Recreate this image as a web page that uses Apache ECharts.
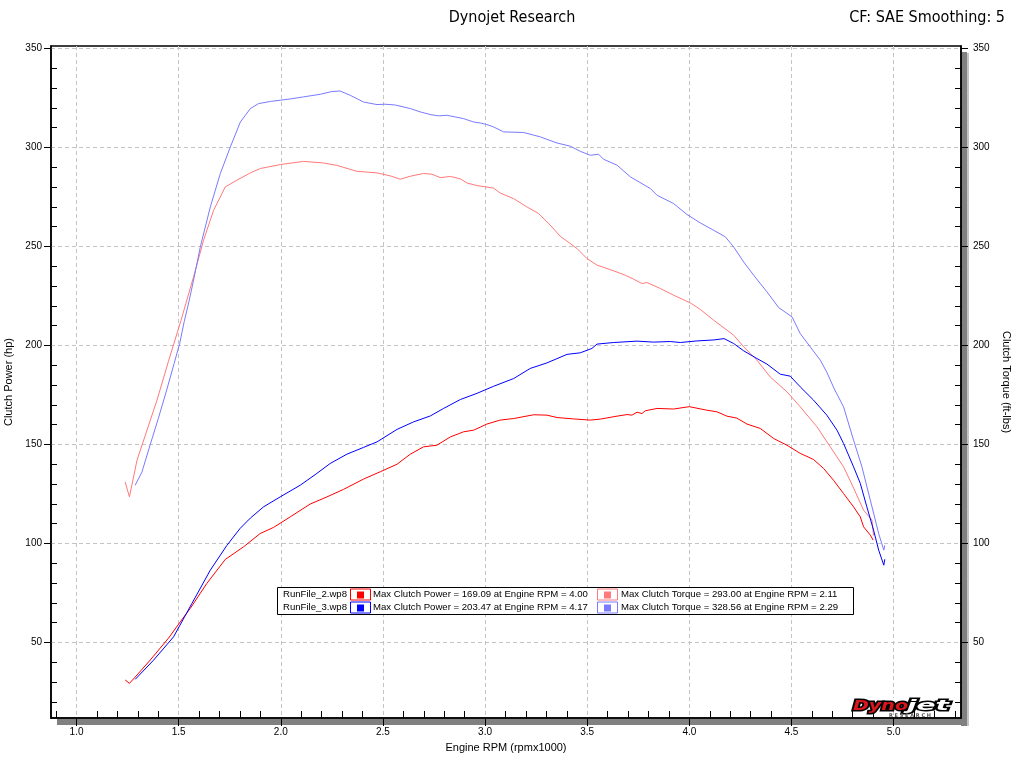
<!DOCTYPE html>
<html><head><meta charset="utf-8">
<script src="https://cdn.jsdelivr.net/npm/echarts@6/dist/echarts.min.js"></script>
<style>html,body{margin:0;padding:0;background:#fff}#c{width:1024px;height:774px}</style>
</head><body><div id="c"></div>
<script>
// ---- data (Engine RPM x1000 / value) ----
const rpmPower2 = [1.238,1.259,1.296,1.361,1.45,1.508,1.557,1.638,1.728,1.818,1.899,1.965,2.046,2.144,2.226,2.307,2.405,2.487,2.569,2.634,2.699,2.764,2.83,2.895,2.944,3.009,3.074,3.14,3.238,3.303,3.352,3.433,3.515,3.564,3.646,3.695,3.719,3.744,3.768,3.784,3.842,3.923,4.0,4.086,4.135,4.184,4.233,4.282,4.347,4.413,4.478,4.543,4.608,4.657,4.706,4.755,4.804,4.837,4.853,4.886,4.9];
const power2 = [31,29.3,33.5,41.1,52.1,60.4,67.2,79.8,91.9,98.3,105,108.1,113.4,119.9,123.5,127.3,132.5,136.2,140,145.1,148.8,149.6,153.8,156.4,157.2,160.3,162.3,163.1,165,164.8,163.6,162.9,162.3,162.8,164.3,165.1,164.8,166.3,165.6,167,168.2,167.9,169.09,167.3,166.5,164.3,163.3,160.3,158.1,153,149.6,145.5,142.4,137.9,131.9,125.2,118.5,113.4,108.4,104.2,101.7];

const rpmPower3 = [1.287,1.377,1.475,1.565,1.655,1.736,1.801,1.851,1.916,1.997,2.095,2.177,2.242,2.324,2.405,2.471,2.569,2.65,2.732,2.797,2.879,2.96,3.042,3.14,3.221,3.303,3.401,3.466,3.523,3.548,3.63,3.744,3.825,3.907,3.956,4.037,4.12,4.17,4.217,4.266,4.331,4.38,4.445,4.494,4.543,4.608,4.673,4.723,4.755,4.804,4.837,4.869,4.902,4.927,4.952,4.957];
const power3 = [31.3,41,52.8,69.7,86.5,99,107.6,112.8,118.5,123.5,129.4,135.4,140.4,145.1,148.5,151.3,157.6,161.4,164.4,168.2,172.7,175.8,179.4,183.3,188.4,191.2,195.5,196.3,198.5,200.7,201.5,202.2,201.7,202,201.5,202.3,202.8,203.47,201,197.3,193.4,190.6,185.5,184.5,179.1,172.4,164.8,157.2,150.5,138.7,130.3,118.5,106.7,96.6,89,92];

const rpmTorque2 = [1.238,1.259,1.296,1.345,1.394,1.45,1.511,1.573,1.622,1.671,1.728,1.785,1.851,1.9,1.997,2.111,2.209,2.274,2.372,2.471,2.536,2.585,2.634,2.699,2.74,2.781,2.83,2.879,2.911,2.96,3.042,3.074,3.14,3.205,3.262,3.319,3.368,3.45,3.499,3.548,3.63,3.686,3.727,3.768,3.793,3.858,3.923,4.005,4.054,4.119,4.217,4.266,4.331,4.396,4.478,4.543,4.625,4.69,4.755,4.804,4.853,4.894,4.902];
const torque2 = [131.1,123.5,142,157.2,172.4,192,212.5,234.7,253.2,268.3,280.1,283.5,287.2,289.4,291.4,293,292.2,291,288,287.2,285.7,284,285.5,286.9,286.5,284.8,285.4,284.2,282.1,280.8,279.5,277,274.2,270,266.7,260.8,255.2,249,243.9,240.6,237.7,235.5,233.5,231.3,231.8,228.8,225.4,221.5,218.2,212.8,205.2,199.3,192.6,184.1,176.6,169,158.9,148.8,138.7,128,116.8,111.8,104];

const rpmTorque3 = [1.287,1.32,1.361,1.40,1.44,1.478,1.505,1.527,1.55,1.573,1.606,1.655,1.704,1.753,1.802,1.851,1.891,1.95,1.997,2.05,2.111,2.193,2.25,2.29,2.34,2.405,2.471,2.51,2.56,2.634,2.683,2.735,2.772,2.813,2.895,2.944,2.977,3.009,3.042,3.091,3.189,3.27,3.352,3.417,3.466,3.515,3.556,3.58,3.646,3.711,3.809,3.842,3.923,3.988,4.054,4.119,4.176,4.217,4.266,4.315,4.38,4.437,4.503,4.543,4.592,4.641,4.673,4.71,4.755,4.804,4.845,4.886,4.927,4.952,4.957];
const torque3 = [129.4,136,150,163,177,191,201,212,222,233,249.8,270,286.9,300.3,312.9,319.7,322.2,323.3,323.9,324.6,325.6,326.9,328.3,328.56,326.4,323,321.7,321.9,321.5,319.7,318,316.6,316,316.3,314.6,312.9,312.4,311.6,310.4,307.9,307.6,305.4,302.3,300.7,298.1,296.1,296.6,294.1,291.1,285.2,279.3,275.9,271.7,266.2,261.9,258.2,254.9,249.8,242.2,235.5,227.1,219.2,214.4,206,199.3,192.6,186.5,178,169,152.2,138.7,121.9,105,96.6,99];

// ---- legend data ----
const runNames = ['RunFile_2.wp8', 'RunFile_3.wp8'];
const maxPower = [169.09, 203.47];
const maxPowerRpm = [4.00, 4.17];
const maxTorque = [293.00, 328.56];
const maxTorqueRpm = [2.11, 2.29];

// ---- ticks ----
const xMajorTicks = [1.0, 1.5, 2.0, 2.5, 3.0, 3.5, 4.0, 4.5, 5.0];
const yMajorTicks = [50, 100, 150, 200, 250, 300, 350];
const xMinorTicks = [];
for (let i = 9; i <= 53; i++) { if (i % 5 !== 0) xMinorTicks.push(i / 10); }
const yMinorTicks = [];
for (let v = 20; v <= 340; v += 10) { if (v % 50 !== 0) yMinorTicks.push(v); }

const xMin = 0.875, xMax = 5.33, yMin = 11.8, yMax = 351.3;

const powerColors = ['#ff0000', '#0000ff'];
const torqueColors = ['#ff7a7a', '#7a7aff'];

const pair = (xs, ys) => xs.slice(0, Math.min(xs.length, ys.length)).map((x, i) => [x, ys[i]]);
const FONT = '"Liberation Sans", Arial, sans-serif';
const NARROW = '"DejaVu Sans Condensed", "Liberation Sans Narrow", sans-serif';
const axisLineStyle = { color: '#000', width: 1.5 };
const splitStyle = { color: '#c4c4c4', type: [4, 3], width: 1 };
const labelStyle = { fontSize: 10, fontFamily: FONT, color: '#000' };

function mainY(pos) {
  return {
    type: 'value', min: yMin, max: yMax, position: pos,
    axisLine: { show: true, lineStyle: axisLineStyle },
    axisTick: { show: true, inside: false, length: 7, customValues: yMajorTicks, lineStyle: { color: '#000' } },
    axisLabel: Object.assign({ customValues: yMajorTicks, margin: pos === 'left' ? 9 : 12, formatter: v => String(Math.round(v)) }, labelStyle),
    splitLine: { show: pos === 'left', lineStyle: splitStyle },
    name: pos === 'left' ? 'Clutch Power (hp)' : 'Clutch Torque (ft-lbs)',
    nameLocation: 'middle', nameGap: pos === 'left' ? 30 : 37,
    nameRotate: pos === 'left' ? 90 : -90,
    nameTextStyle: { fontSize: 11, fontFamily: FONT, color: '#000' }
  };
}
function minorY(pos) {
  return {
    type: 'value', min: yMin, max: yMax, position: pos,
    axisLine: { show: false },
    axisTick: { show: true, inside: true, length: 6, customValues: yMinorTicks, lineStyle: { color: '#000' } },
    axisLabel: { show: false }, splitLine: { show: false }
  };
}

const graphics = [
  { type: 'rect', z: -5, silent: true, shape: { x: 961, y: 52, width: 6, height: 674 }, style: { fill: '#808080' } },
  { type: 'rect', z: -5, silent: true, shape: { x: 967, y: 53, width: 2, height: 673 }, style: { fill: '#c4c4c4' } },
  { type: 'rect', z: -5, silent: true, shape: { x: 57, y: 719, width: 910, height: 6 }, style: { fill: '#808080' } },
  { type: 'rect', z: 50, silent: true, shape: { x: 277.5, y: 587.5, width: 576, height: 27 }, style: { fill: '#fff', stroke: '#000', lineWidth: 1 } }
];
const LFONT = '9.6px "Liberation Sans", Arial, sans-serif';
for (let i = 0; i < 2; i++) {
  const cy = 594.5 + i * 13;
  graphics.push(
    { type: 'text', z: 51, x: 283, y: cy, style: { text: runNames[i], font: LFONT, fill: '#000', textVerticalAlign: 'middle' } },
    { type: 'rect', z: 51, shape: { x: 350.5, y: cy - 5.5, width: 20, height: 11 }, style: { fill: '#fff', stroke: powerColors[i], lineWidth: 1 } },
    { type: 'rect', z: 52, shape: { x: 357, y: cy - 3, width: 7, height: 7 }, style: { fill: powerColors[i] } },
    { type: 'text', z: 51, x: 373, y: cy, style: { text: 'Max Clutch Power = ' + maxPower[i].toFixed(2) + ' at Engine RPM = ' + maxPowerRpm[i].toFixed(2), font: LFONT, fill: '#000', textVerticalAlign: 'middle' } },
    { type: 'rect', z: 51, shape: { x: 597.5, y: cy - 5.5, width: 20, height: 11 }, style: { fill: '#fff', stroke: torqueColors[i], lineWidth: 1 } },
    { type: 'rect', z: 52, shape: { x: 604, y: cy - 3, width: 7, height: 7 }, style: { fill: torqueColors[i] } },
    { type: 'text', z: 51, x: 621, y: cy, style: { text: 'Max Clutch Torque = ' + maxTorque[i].toFixed(2) + ' at Engine RPM = ' + maxTorqueRpm[i].toFixed(2), font: LFONT, fill: '#000', textVerticalAlign: 'middle' } }
  );
}
// Dynojet logo (text scaled horizontally to the logo's footprint)
const LOGO = 'italic bold 14px "DejaVu Sans", sans-serif';
const mctx = document.createElement('canvas').getContext('2d');
mctx.font = LOGO;
const wDyno = mctx.measureText('Dyno').width, wJet = mctx.measureText('jet').width;
const sDyno = 55 / wDyno, sJet = 42 / wJet;
function logoWord(word, x0, s, fill) {
  return { type: 'group', x: x0, y: 706, scaleX: s, z: 61, children: [
    { type: 'text', z: 61, style: { text: word, font: LOGO, fill: '#000', stroke: '#000', lineWidth: 3, textVerticalAlign: 'middle' } },
    { type: 'text', z: 62, style: { text: word, font: LOGO, fill: fill, textVerticalAlign: 'middle' } }
  ] };
}
graphics.push(
  { type: 'rect', z: 60, shape: { x: 852, y: 698, width: 100, height: 12 }, style: { fill: '#fff' } },
  logoWord('Dyno', 853, sDyno, '#d8161b'),
  logoWord('jet', 907, sJet, '#fff'),
  { type: 'text', z: 62, x: 889, y: 715.5, style: { text: 'R E S E A R C H', font: 'bold 5px "DejaVu Sans", sans-serif', fill: '#555', textVerticalAlign: 'middle' } }
);

function lineSeries(name, data, color, yIdx) {
  return { name, type: 'line', xAxisIndex: 0, yAxisIndex: yIdx, data, showSymbol: false, symbol: 'none',
    lineStyle: { width: 1, color }, itemStyle: { color }, clip: true, silent: true };
}

const option = {
  animation: false,
  backgroundColor: '#fff',
  title: [
    { text: 'Dynojet Research', left: 'center', top: 5, textStyle: { fontSize: 16, fontWeight: 'normal', fontFamily: NARROW, color: '#000' } },
    { text: 'CF: SAE Smoothing: 5', right: 14, top: 5, textStyle: { fontSize: 16, fontWeight: 'normal', fontFamily: NARROW, color: '#000' } }
  ],
  grid: { left: 51, right: 63, top: 46, bottom: 56, show: true, borderColor: '#000', borderWidth: 1.5, backgroundColor: '#fff', containLabel: false, outerBoundsMode: 'none' },
  xAxis: [
    { type: 'value', min: xMin, max: xMax, position: 'bottom',
      axisLine: { show: true, onZero: false, lineStyle: axisLineStyle },
      axisTick: { show: true, inside: false, length: 8, customValues: xMajorTicks, lineStyle: { color: '#000' } },
      axisLabel: Object.assign({ customValues: xMajorTicks, margin: 9, formatter: v => v.toFixed(1) }, labelStyle),
      splitLine: { show: true, lineStyle: splitStyle },
      name: 'Engine RPM (rpmx1000)', nameLocation: 'middle', nameGap: 24,
      nameTextStyle: { fontSize: 11, fontFamily: FONT, color: '#000' } },
    { type: 'value', min: xMin, max: xMax, position: 'bottom',
      axisLine: { show: false },
      axisTick: { show: true, inside: true, length: 7, customValues: xMinorTicks, lineStyle: { color: '#000' } },
      axisLabel: { show: false }, splitLine: { show: false } }
  ],
  yAxis: [mainY('left'), mainY('right'), minorY('left'), minorY('right')],
  series: [
    lineSeries('Torque RunFile_2', pair(rpmTorque2, torque2), torqueColors[0], 1),
    lineSeries('Torque RunFile_3', pair(rpmTorque3, torque3), torqueColors[1], 1),
    lineSeries('Power RunFile_2', pair(rpmPower2, power2), powerColors[0], 0),
    lineSeries('Power RunFile_3', pair(rpmPower3, power3), powerColors[1], 0)
  ],
  graphic: graphics
};
const chart = echarts.init(document.getElementById('c'));
chart.setOption(option);
</script>
</body></html>
